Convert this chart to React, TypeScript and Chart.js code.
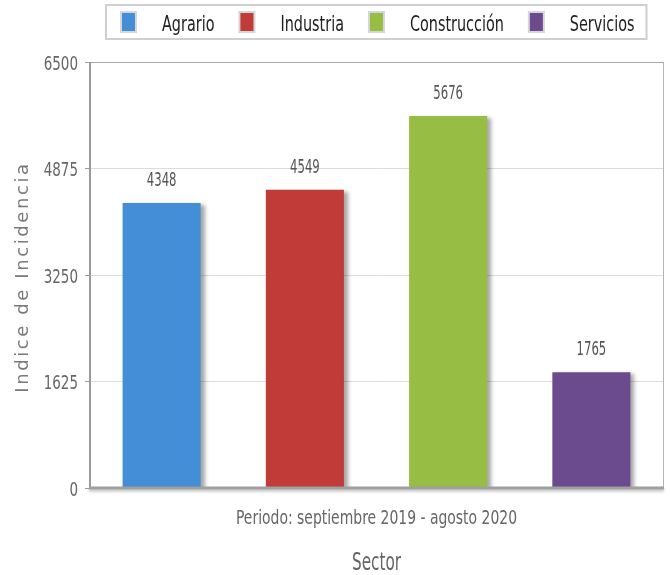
import React, { useEffect, useRef } from "react";
import { Chart, registerables } from "chart.js";

Chart.register(...registerables);

const categories = ["Periodo: septiembre 2019 - agosto 2020"];
const sectors = ["Agrario", "Industria", "Construcción", "Servicios"];
const values = [4348, 4549, 5676, 1765];
const colors = ["#438ED6", "#C13B38", "#97BD45", "#6B4B8D"];
const yTicks = [0, 1625, 3250, 4875, 6500];
const yTitle = "Indice de Incidencia";
const xTitle = "Sector";

const COND = "'DejaVu Sans Condensed', 'Liberation Sans Narrow', sans-serif";

function tallText(
  ctx: CanvasRenderingContext2D,
  text: string,
  x: number,
  y: number,
  size: number,
  sy: number,
  align: CanvasTextAlign,
  color: string
) {
  ctx.save();
  ctx.font = `${size}px ${COND}`;
  ctx.fillStyle = color;
  ctx.textAlign = align;
  ctx.textBaseline = "alphabetic";
  ctx.translate(x, y);
  ctx.scale(1, sy);
  ctx.fillText(text, 0, 0);
  ctx.restore();
}

const framePlugin = {
  id: "frame",
  beforeDatasetDraw(chart: any) {
    const ctx = chart.ctx;
    ctx.save();
    ctx.shadowColor = "rgba(0,0,0,0.35)";
    ctx.shadowOffsetX = 4;
    ctx.shadowOffsetY = 2;
    ctx.shadowBlur = 4;
  },
  afterDatasetDraw(chart: any) {
    chart.ctx.restore();
  },
  afterDatasetsDraw(chart: any) {
    const ctx = chart.ctx;
    const a = chart.chartArea;
    ctx.save();
    ctx.strokeStyle = "#b5b5b5";
    ctx.lineWidth = 1;
    ctx.beginPath();
    ctx.moveTo(a.right + 0.5, a.top);
    ctx.lineTo(a.right + 0.5, a.bottom);
    ctx.stroke();
    ctx.strokeStyle = "#a8a8a8";
    ctx.beginPath();
    ctx.moveTo(a.left - 3, a.top + 0.5);
    ctx.lineTo(a.right, a.top + 0.5);
    ctx.stroke();
    ctx.strokeStyle = "#9a9a9a";
    ctx.lineWidth = 2;
    ctx.beginPath();
    ctx.moveTo(a.left, a.top);
    ctx.lineTo(a.left, a.bottom);
    ctx.stroke();
    ctx.shadowColor = "rgba(0,0,0,0.25)";
    ctx.shadowOffsetY = 2;
    ctx.shadowBlur = 3;
    ctx.strokeStyle = "#a0a0a0";
    ctx.lineWidth = 3;
    ctx.beginPath();
    ctx.moveTo(a.left - 1, a.bottom);
    ctx.lineTo(a.right + 1, a.bottom);
    ctx.stroke();
    ctx.restore();

    // value labels
    chart.data.datasets.forEach((ds: any, i: number) => {
      const meta = chart.getDatasetMeta(i);
      meta.data.forEach((el: any, j: number) => {
        tallText(ctx, String(ds.data[j]), el.x, el.y - 17, 13, 1.55, "center", "#555");
      });
    });
  },
  afterDraw(chart: any) {
    const ctx = chart.ctx;
    const a = chart.chartArea;
    const ys = chart.scales.y;
    const xs = chart.scales.x;

    // y tick labels
    yTicks.forEach((v) => {
      const py = ys.getPixelForValue(v);
      tallText(ctx, String(v), a.left - 12, py + 7.5, 15, 1.35, "right", "#666");
    });

    // x category labels
    chart.data.labels.forEach((lab: string, i: number) => {
      const px = xs.getPixelForTick(i);
      tallText(ctx, lab, px, a.bottom + 36, 15.5, 1.24, "center", "#666");
    });

    // x title
    tallText(ctx, xTitle, (a.left + a.right) / 2, a.bottom + 82, 17, 1.45, "center", "#666");

    // y title with letter spacing
    ctx.save();
    ctx.font = "18px 'DejaVu Sans', sans-serif";
    (ctx as any).letterSpacing = "2.6px";
    ctx.fillStyle = "#7a7a7a";
    ctx.textAlign = "center";
    ctx.textBaseline = "alphabetic";
    ctx.translate(28, (a.top + a.bottom) / 2 + 2);
    ctx.rotate(-Math.PI / 2);
    ctx.fillText(yTitle, 0, 0);
    ctx.restore();

    // custom legend
    ctx.save();
    const size = 16;
    ctx.font = `${size}px ${COND}`;
    const sqW = 17;
    const sqH = 22;
    const gapBoxText = 25;
    const gapItems = 24;
    const ds = chart.data.datasets;
    const widths = ds.map((d: any) => ctx.measureText(d.label).width);
    let total = 0;
    widths.forEach((w: number, i: number) => {
      total += sqW + gapBoxText + w + (i < widths.length - 1 ? gapItems : 0);
    });
    const cx = (a.left + a.right) / 2 + 1;
    let x = Math.round(cx - total / 2);
    ctx.strokeStyle = "#cfcfcf";
    ctx.lineWidth = 2;
    ctx.strokeRect(x - 14, 5, total + 14 + 12, 34);
    ds.forEach((d: any, i: number) => {
      ctx.fillStyle = "#d6d6d6";
      ctx.fillRect(x, 11, sqW, sqH);
      ctx.fillStyle = d.backgroundColor;
      ctx.fillRect(x + 2, 13, sqW - 4, sqH - 4);
      tallText(ctx, d.label, x + sqW + gapBoxText, 31, size, 1.37, "left", "#222");
      x += sqW + gapBoxText + widths[i] + gapItems;
    });
    ctx.restore();
  },
};

export default function App() {
  const ref = useRef<HTMLCanvasElement>(null);
  useEffect(() => {
    document.body.style.margin = "0";
    const chart = new Chart(ref.current as HTMLCanvasElement, {
      type: "bar",
      data: {
        labels: categories,
        datasets: sectors.map((s, i) => ({
          label: s,
          data: [values[i]],
          backgroundColor: colors[i],
          borderWidth: 0,
          barPercentage: 0.545,
          categoryPercentage: 1,
        })),
      },
      options: {
        animation: false,
        responsive: false,
        layout: { padding: { left: 8, right: 7, top: 62, bottom: 2 } },
        plugins: {
          tooltip: { enabled: false },
          legend: { display: false },
        },
        scales: {
          x: {
            grid: { display: false, drawTicks: false },
            border: { display: false },
            ticks: { display: false },
            afterFit(scale: any) {
              scale.height = 85;
            },
          },
          y: {
            min: 0,
            max: 6500,
            afterBuildTicks(scale: any) {
              scale.ticks = yTicks.map((v) => ({ value: v }));
            },
            grid: {
              color: "#dcdcdc",
              tickColor: "#9a9a9a",
              tickLength: 5,
              drawTicks: true,
            },
            border: { display: false },
            ticks: { display: false },
            afterFit(scale: any) {
              scale.width = 82;
            },
          },
        },
      },
      plugins: [framePlugin],
    } as any);
    return () => chart.destroy();
  }, []);
  return (
    <div style={{ position: "absolute", left: 0, top: 0, width: 670, height: 575 }}>
      <canvas ref={ref} width={670} height={575} style={{ width: 670, height: 575 }} />
    </div>
  );
}
